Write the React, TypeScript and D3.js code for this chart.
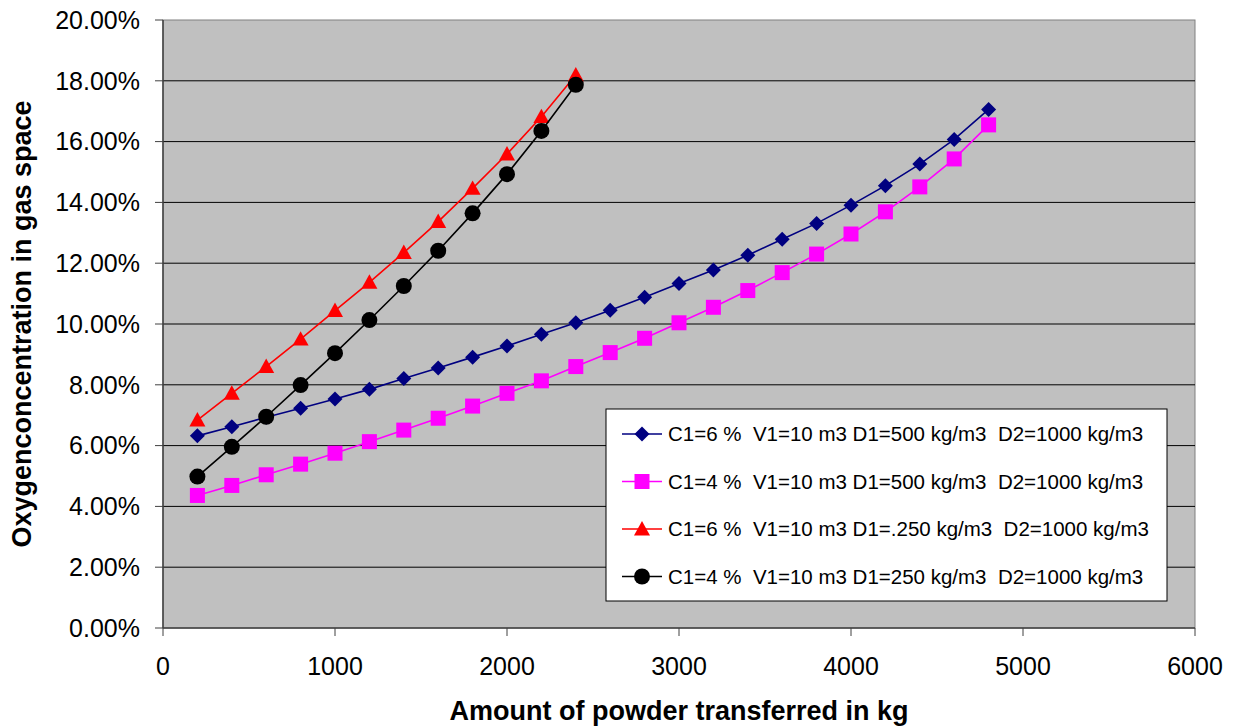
import * as d3 from "d3";

// x values (kg of powder transferred)
const xLong = [200, 400, 600, 800, 1000, 1200, 1400, 1600, 1800, 2000, 2200, 2400, 2600, 2800, 3000, 3200, 3400, 3600, 3800, 4000, 4200, 4400, 4600, 4800];
const xShort = [200, 400, 600, 800, 1000, 1200, 1400, 1600, 1800, 2000, 2200, 2400];

// oxygen concentration (%) per series
const c6d500 = [6.32, 6.62, 6.93, 7.23, 7.53, 7.85, 8.21, 8.55, 8.91, 9.28, 9.66, 10.04, 10.45, 10.88, 11.33, 11.78, 12.26, 12.79, 13.31, 13.91, 14.55, 15.26, 16.07, 17.06];
const c4d500 = [4.36, 4.69, 5.04, 5.39, 5.75, 6.13, 6.51, 6.9, 7.3, 7.72, 8.13, 8.6, 9.06, 9.53, 10.04, 10.55, 11.1, 11.69, 12.3, 12.96, 13.69, 14.51, 15.43, 16.55];
const c6d250 = [6.84, 7.72, 8.6, 9.5, 10.44, 11.37, 12.35, 13.37, 14.46, 15.59, 16.82, 18.19];
const c4d250 = [4.98, 5.96, 6.95, 7.99, 9.04, 10.13, 11.25, 12.41, 13.64, 14.93, 16.35, 17.87];

const seriesNames = [
  "C1=6 %  V1=10 m3 D1=500 kg/m3  D2=1000 kg/m3",
  "C1=4 %  V1=10 m3 D1=500 kg/m3  D2=1000 kg/m3",
  "C1=6 %  V1=10 m3 D1=.250 kg/m3  D2=1000 kg/m3",
  "C1=4 %  V1=10 m3 D1=250 kg/m3  D2=1000 kg/m3",
];
const yTicks = [0, 2, 4, 6, 8, 10, 12, 14, 16, 18, 20];
const xTicks = [0, 1000, 2000, 3000, 4000, 5000, 6000];

const W = 1236;
const H = 726;
const left = 163;
const right = 1195;
const top = 20;
const bottom = 628;
const font = "'Liberation Sans', Arial, Helvetica, sans-serif";

const series = [
  { name: seriesNames[0], xs: xLong, ys: c6d500, color: "#000080", shape: "diamond" },
  { name: seriesNames[1], xs: xLong, ys: c4d500, color: "#FF00FF", shape: "square" },
  { name: seriesNames[2], xs: xShort, ys: c6d250, color: "#FF0000", shape: "triangle" },
  { name: seriesNames[3], xs: xShort, ys: c4d250, color: "#000000", shape: "circle" },
];

function Marker({ shape, x, y, color }: { shape: string; x: number; y: number; color: string }) {
  if (shape === "diamond") {
    const s = 7.5;
    return <path d={`M${x},${y - s}L${x + s},${y}L${x},${y + s}L${x - s},${y}Z`} fill={color} />;
  }
  if (shape === "square") {
    const s = 7.5;
    return <rect x={x - s} y={y - s} width={2 * s} height={2 * s} fill={color} />;
  }
  if (shape === "triangle") {
    const s = 8;
    return <path d={`M${x},${y - s}L${x + s},${y + s * 0.8}L${x - s},${y + s * 0.8}Z`} fill={color} />;
  }
  return <circle cx={x} cy={y} r={8} fill={color} />;
}

export default function App() {
  const xScale = d3.scaleLinear().domain([0, 6000]).range([left, right]);
  const yScale = d3.scaleLinear().domain([0, 20]).range([bottom, top]);

  const line = d3
    .line<[number, number]>()
    .x((d) => xScale(d[0]))
    .y((d) => yScale(d[1]));

  const legendX = 606;
  const legendY = 409;
  const legendW = 561;
  const legendH = 192;
  const legendRow = 47.5;

  return (
    <svg width={W} height={H} style={{ position: "absolute", left: 0, top: 0, background: "#fff" }} fontFamily={font}>
      {/* plot area */}
      <rect x={left} y={top} width={right - left} height={bottom - top} fill="#C0C0C0" stroke="#808080" strokeWidth={1} />

      {/* grid lines */}
      {yTicks.slice(1, -1).map((t) => (
        <line key={t} x1={left} x2={right} y1={yScale(t)} y2={yScale(t)} stroke="#000" strokeWidth={1} />
      ))}

      {/* axes */}
      <line x1={left} x2={left} y1={top} y2={bottom} stroke="#404040" strokeWidth={1.5} />
      <line x1={left} x2={right} y1={bottom} y2={bottom} stroke="#404040" strokeWidth={1.5} />
      {yTicks.map((t) => (
        <g key={t}>
          <line x1={left - 8} x2={left} y1={yScale(t)} y2={yScale(t)} stroke="#404040" />
          <text x={140} y={yScale(t)} dy="0.35em" textAnchor="end" fontSize={25} fill="#000">
            {t.toFixed(2) + "%"}
          </text>
        </g>
      ))}
      {xTicks.map((t) => (
        <g key={t}>
          <line x1={xScale(t)} x2={xScale(t)} y1={bottom} y2={bottom + 8} stroke="#404040" />
          <text x={xScale(t)} y={675} textAnchor="middle" fontSize={25} fill="#000">
            {t}
          </text>
        </g>
      ))}

      {/* series */}
      {series.map((s) => {
        const pts = s.xs.map((x, i) => [x, s.ys[i]] as [number, number]);
        return (
          <g key={s.name}>
            <path d={line(pts) || ""} fill="none" stroke={s.color} strokeWidth={1.6} />
            {pts.map((p, i) => (
              <Marker key={i} shape={s.shape} x={xScale(p[0])} y={yScale(p[1])} color={s.color} />
            ))}
          </g>
        );
      })}

      {/* legend */}
      <rect x={legendX} y={legendY} width={legendW} height={legendH} fill="#fff" stroke="#000" strokeWidth={1} />
      {series.map((s, i) => {
        const cy = legendY + 25 + i * legendRow;
        return (
          <g key={s.name}>
            <line x1={legendX + 16} x2={legendX + 56} y1={cy} y2={cy} stroke={s.color} strokeWidth={1.6} />
            <Marker shape={s.shape} x={legendX + 36} y={cy} color={s.color} />
            <text x={legendX + 62} y={cy} dy="0.36em" fontSize={20.5} fill="#000" style={{ whiteSpace: "pre" }}>
              {s.name}
            </text>
          </g>
        );
      })}

      {/* axis titles */}
      <text x={(left + right) / 2} y={720} textAnchor="middle" fontSize={27} fontWeight="bold" fill="#000">
        Amount of powder transferred in kg
      </text>
      <text
        transform={`translate(31,${(top + bottom) / 2}) rotate(-90)`}
        textAnchor="middle"
        fontSize={27}
        fontWeight="bold"
        fill="#000"
      >
        Oxygenconcentration in gas space
      </text>
    </svg>
  );
}
